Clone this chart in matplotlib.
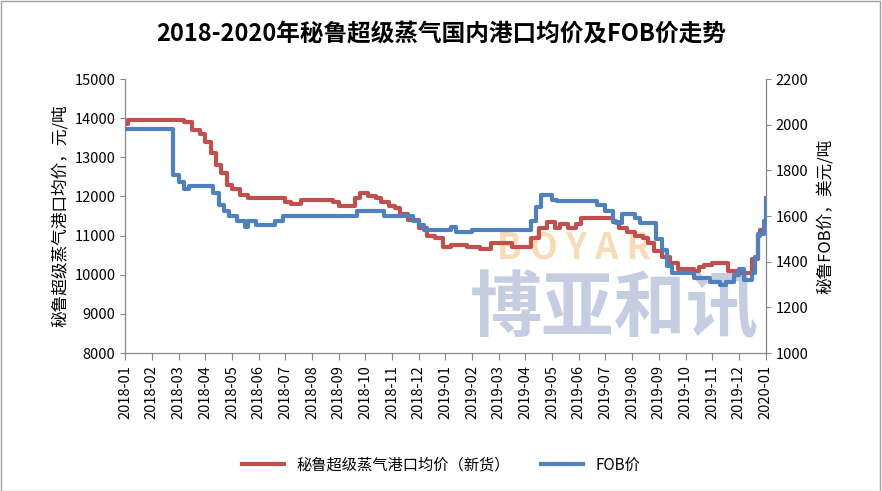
import matplotlib
matplotlib.use("Agg")
import matplotlib.pyplot as plt

plt.rcParams["font.family"] = ["Noto Sans CJK SC", "DejaVu Sans"]

months = ["2018-01", "2018-02", "2018-03", "2018-04", "2018-05", "2018-06", "2018-07",
          "2018-08", "2018-09", "2018-10", "2018-11", "2018-12", "2019-01", "2019-02",
          "2019-03", "2019-04", "2019-05", "2019-06", "2019-07", "2019-08", "2019-09",
          "2019-10", "2019-11", "2019-12", "2020-01"]

# 港口均价（元/吨）：月序号 -> 价格
port_t = [0, 0.1, 2.2, 2.5, 2.8, 3.0, 3.2, 3.4, 3.6, 3.8, 4.0, 4.3, 4.6, 4.9, 6.0, 6.2, 6.6,
          6.8, 7.8, 8.0, 8.6, 8.8, 9.1, 9.4, 9.6, 9.9, 10.1, 10.3, 10.6, 11.0, 11.3, 11.6,
          11.9, 12.2, 12.8, 13.3, 13.7, 14.3, 14.5, 15.0, 15.2, 15.5, 15.8, 16.1, 16.3,
          16.6, 16.9, 17.1, 18.3, 18.5, 18.8, 19.1, 19.4, 19.6, 19.8, 20.1, 20.4, 20.7,
          21.3, 21.5, 21.7, 22.0, 22.6, 23.0, 23.5, 23.7, 23.8, 24.0]
port_v = [13850, 13950, 13900, 13700, 13600, 13400, 13100, 12800, 12600, 12300, 12200,
          12050, 11950, 11950, 11850, 11800, 11900, 11900, 11850, 11750, 11950, 12100,
          12000, 11950, 11850, 11750, 11700, 11550, 11400, 11200, 11000, 10950, 10700,
          10750, 10700, 10650, 10800, 10800, 10700, 10700, 10950, 11200, 11350, 11200,
          11300, 11200, 11300, 11450, 11350, 11200, 11100, 11000, 10950, 10800, 10600,
          10450, 10300, 10150, 10100, 10200, 10250, 10300, 10100, 10050, 10400, 11000,
          11150, 11150]

# FOB价（美元/吨）
fob_t = [0, 1.78, 2.0, 2.2, 2.4, 3.3, 3.5, 3.7, 3.9, 4.2, 4.5, 4.6, 4.9, 5.6, 5.9, 8.7,
         9.7, 10.8, 11.0, 11.2, 12.2, 12.4, 13.0, 15.2, 15.4, 15.6, 16.0, 16.2, 17.7,
         18.0, 18.3, 18.4, 18.6, 19.1, 19.3, 19.9, 20.1, 20.3, 20.5, 21.3, 21.9, 22.3,
         22.5, 22.8, 23.0, 23.2, 23.5, 23.6, 23.7, 23.95, 24.0]
fob_v = [1980, 1780, 1750, 1720, 1730, 1700, 1650, 1620, 1600, 1580, 1550, 1580, 1560,
         1580, 1600, 1620, 1600, 1580, 1560, 1540, 1550, 1530, 1540, 1580, 1640, 1690,
         1670, 1665, 1650, 1620, 1580, 1570, 1610, 1590, 1570, 1500, 1450, 1380, 1350,
         1330, 1310, 1300, 1310, 1340, 1370, 1320, 1350, 1420, 1520, 1580, 1680]

fig = plt.figure(figsize=(8.82, 4.91), dpi=100)
ax = fig.add_axes([0.142, 0.281, 0.726, 0.558])
ax2 = ax.twinx()

# 水印
ax.text(0.99, 0.02, "博亚和讯", transform=ax.transAxes, ha="right", va="bottom",
        fontsize=52, fontweight="bold", color="#c5cde3", zorder=0, clip_on=True)
ax.text(0.58, 0.385, "B O Y A R", transform=ax.transAxes, ha="left", va="center",
        fontsize=26, fontweight="bold", color="#f8dcb8", zorder=0, clip_on=True)

red = "#c0504d"
blue = "#4f81bd"
l1, = ax.plot(port_t, port_v, color=red, lw=3, drawstyle="steps-post", zorder=3,
              label="秘鲁超级蒸气港口均价（新货）")
l2, = ax2.plot(fob_t, fob_v, color=blue, lw=3, drawstyle="steps-post", zorder=3,
               label="FOB价")

ax.set_xlim(0, 24)
ax.set_ylim(8000, 15000)
ax2.set_ylim(1000, 2200)
ax.set_yticks(range(8000, 15001, 1000))
ax2.set_yticks(range(1000, 2201, 200))
ax.set_xticks(range(25), months, rotation=90)

for a in (ax, ax2):
    for s in a.spines.values():
        s.set_color("#868686")
    a.spines["top"].set_visible(False)
    a.tick_params(colors="#868686", labelcolor="black", labelsize=10.5)
ax.tick_params(axis="x", direction="out", length=5)

ax.set_ylabel("秘鲁超级蒸气港口均价，元/吨", fontsize=12)
ax2.set_ylabel("秘鲁FOB价，美元/吨", fontsize=12, rotation=90, labelpad=6)

fig.suptitle("2018-2020年秘鲁超级蒸气国内港口均价及FOB价走势", y=0.955,
             fontsize=17, fontweight="bold")
fig.legend(handles=[l1, l2], loc="center", bbox_to_anchor=(0.5, 0.053), ncol=2,
           frameon=False, fontsize=11, handlelength=2.8)

fig.patches.append(plt.Rectangle((0.001, 0.001), 0.997, 0.997, transform=fig.transFigure,
                                 fill=False, edgecolor="#a0a0a0", lw=1))
fig.savefig("out.png", dpi=100)
